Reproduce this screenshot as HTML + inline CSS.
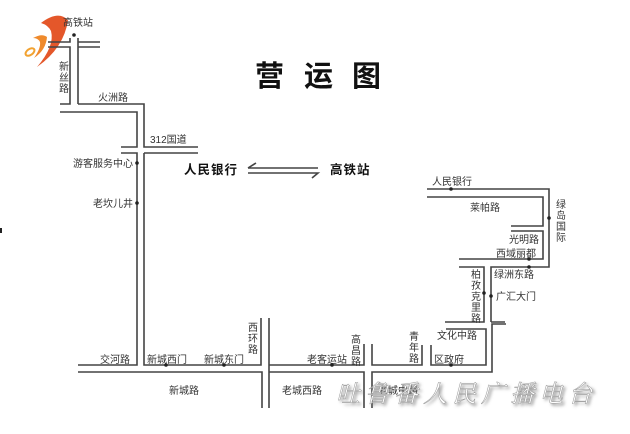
<!DOCTYPE html>
<html><head><meta charset="utf-8"><style>
html,body{margin:0;padding:0;background:#fff;}
svg{display:block;}
text{font-family:"Liberation Sans","Noto Sans CJK SC",sans-serif;fill:#333;}
</style></head><body>
<svg width="630" height="434" viewBox="0 0 630 434" xmlns="http://www.w3.org/2000/svg">
<defs><filter id="sh" x="-10%" y="-30%" width="130%" height="170%"><feGaussianBlur stdDeviation="1.6"/></filter></defs>
<rect width="630" height="434" fill="#fff"/>
<!-- logo -->
<path d="M41 23 Q58 10 68 20 Q64 48 37 67 Q55 46 51 31 Q48 25 41 23Z" fill="#e4572a"/>
<path d="M33 38 Q42 33 47 37 Q46 50 34 58 Q41 48 40 42 Q38 38 33 38Z" fill="#ef8a2c"/>
<ellipse cx="30" cy="52" rx="5" ry="3" fill="none" stroke="#f2a230" stroke-width="2" transform="rotate(-35 30 52)"/>
<g stroke="#444" stroke-width="1.6" fill="none">
<!-- top left -->
<path d="M48 42H70V38M78 38V104M78 42H100M78 47H100M48 47H70V104H60M78 104H144V147H198M60 112H137V147H121M121 153H137V365H78M144 153H198M144 153V365H261V318"/>
<path d="M78 372H262V408M269 318V408M269 365H364V344M269 372H364V408M372 344V365H422V345M372 408V372H492V324H506M431 345V365H486V329H446M445 322H484V267H459M491 322H505M491 322V267H549V189H427M427 197H543V226H511M511 231H543V259H459"/>
<!-- arrows -->
<path d="M248 168H318M248 168L256 163M248 173H318L312 178"/>
</g>
<g fill="#222">
<circle cx="74" cy="35" r="1.8"/><circle cx="137" cy="163" r="1.8"/><circle cx="137" cy="203" r="1.8"/>
<circle cx="451" cy="189" r="1.8"/><circle cx="549" cy="218" r="1.8"/><circle cx="529" cy="259" r="1.8"/><circle cx="529" cy="267" r="1.8"/>
<circle cx="484" cy="293" r="1.8"/><circle cx="491" cy="296" r="1.8"/>
<circle cx="166" cy="365" r="1.8"/><circle cx="224" cy="365" r="1.8"/><circle cx="332" cy="365" r="1.8"/><circle cx="451" cy="365" r="1.8"/>
<rect x="0" y="228" width="2" height="5"/>
</g>
<g font-size="29" font-weight="bold" fill="#111"><text x="255" y="86" style="fill:#111">营</text><text x="304" y="86" style="fill:#111">运</text><text x="352" y="86" style="fill:#111">图</text></g>
<g font-size="12.5" font-weight="bold"><text x="184" y="174" style="fill:#111" letter-spacing="1">人民银行</text><text x="330" y="174" style="fill:#111" letter-spacing="1">高铁站</text></g>
<g font-size="10">
<text x="63" y="26">高铁站</text>
<text x="59" y="70">新</text><text x="59" y="81">丝</text><text x="59" y="92">路</text>
<text x="98" y="101">火洲路</text>
<text x="150" y="143">312国道</text>
<text x="133" y="167" text-anchor="end">游客服务中心</text>
<text x="133" y="207" text-anchor="end">老坎儿井</text>
<text x="432" y="185">人民银行</text>
<text x="470" y="211">莱帕路</text>
<text x="556" y="208">绿</text><text x="556" y="219">岛</text><text x="556" y="230">国</text><text x="556" y="241">际</text>
<text x="509" y="243">光明路</text>
<text x="496" y="257">西域丽都</text>
<text x="494" y="278">绿洲东路</text>
<text x="471" y="278">柏</text><text x="471" y="289">孜</text><text x="471" y="300">克</text><text x="471" y="311">里</text><text x="471" y="322">路</text>
<text x="496" y="300">广汇大门</text>
<text x="437" y="339">文化中路</text>
<text x="434" y="363">区政府</text>
<text x="409" y="340">青</text><text x="409" y="351">年</text><text x="409" y="362">路</text>
<text x="351" y="343">高</text><text x="351" y="354">昌</text><text x="351" y="365">路</text>
<text x="307" y="363">老客运站</text>
<text x="248" y="331">西</text><text x="248" y="342">环</text><text x="248" y="353">路</text>
<text x="204" y="363">新城东门</text>
<text x="147" y="363">新城西门</text>
<text x="100" y="363">交河路</text>
<text x="169" y="394">新城路</text>
<text x="282" y="394">老城西路</text>
<text x="378" y="394">老城中路</text>
</g>
<g font-size="24" font-style="italic" letter-spacing="5">
<text x="338" y="404" style="fill:#777;font-family:'Liberation Serif','Noto Serif CJK SC',serif" filter="url(#sh)">吐鲁番人民广播电台</text>
<text x="336" y="402" style="fill:#fff;stroke:#999;stroke-width:0.5;font-family:'Liberation Serif','Noto Serif CJK SC',serif">吐鲁番人民广播电台</text>
</g>
</svg>
</body></html>
